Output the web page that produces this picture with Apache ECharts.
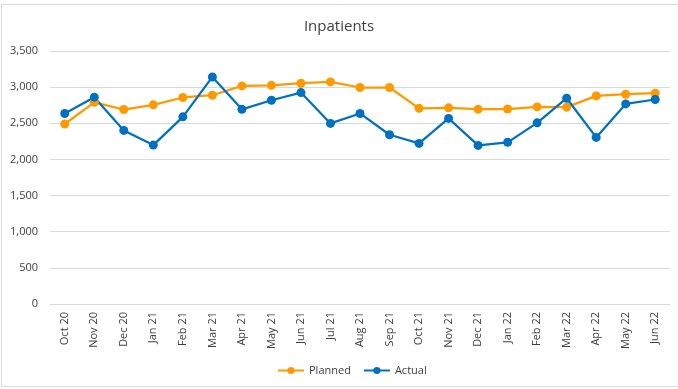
<!DOCTYPE html>
<html>
<head>
<meta charset="utf-8">
<style>
  html, body { margin: 0; padding: 0; background: #ffffff; }
  #chart { width: 678px; height: 389px; }
</style>
<script src="https://cdn.jsdelivr.net/npm/echarts@6/dist/echarts.min.js"></script>
</head>
<body>
<div id="chart"></div>
<script>
// Monthly inpatient activity: plan vs actual
const months = ['Oct 20', 'Nov 20', 'Dec 20', 'Jan 21', 'Feb 21', 'Mar 21', 'Apr 21',
  'May 21', 'Jun 21', 'Jul 21', 'Aug 21', 'Sep 21', 'Oct 21', 'Nov 21', 'Dec 21',
  'Jan 22', 'Feb 22', 'Mar 22', 'Apr 22', 'May 22', 'Jun 22'];
const planned = [2490, 2790, 2690, 2755, 2857, 2888, 3017, 3025, 3054, 3072, 2995, 2995,
  2707, 2714, 2695, 2697, 2727, 2723, 2879, 2902, 2916];
const actual = [2636, 2861, 2401, 2198, 2589, 3141, 2693, 2819, 2925, 2498, 2636, 2341,
  2222, 2567, 2194, 2236, 2506, 2847, 2305, 2768, 2829];
const yTicks = { min: 0, max: 3500, step: 500 };

const FONT = '"Open Sans", "Liberation Sans", sans-serif';
const chart = echarts.init(document.getElementById('chart'), null, { renderer: 'canvas' });

function lineSeries(name, data, color) {
  return {
    name: name,
    type: 'line',
    data: data,
    symbol: 'circle',
    symbolSize: 9,
    lineStyle: { color: color, width: 2.25 },
    itemStyle: { color: color },
    emphasis: { disabled: true },
    animation: false
  };
}

chart.setOption({
  animation: false,
  textStyle: { fontFamily: FONT },
  graphic: [{
    type: 'rect',
    shape: { x: 1.5, y: 4.5, width: 690, height: 382 },
    style: { fill: 'none', stroke: '#d9d9d9', lineWidth: 1 },
    silent: true
  }],
  title: {
    text: 'Inpatients',
    left: 'center',
    top: 14,
    textStyle: { fontFamily: FONT, fontSize: 15, fontWeight: 'normal', color: '#404040' }
  },
  legend: {
    bottom: 8,
    left: 272,
    itemWidth: 26,
    itemHeight: 9,
    itemGap: 12,
    textStyle: { fontFamily: FONT, fontSize: 11, color: '#404040' },
    data: ['Planned', 'Actual']
  },
  grid: { left: 50, right: 8, top: 51, bottom: 85, containLabel: false },
  xAxis: {
    type: 'category',
    data: months,
    boundaryGap: true,
    axisLine: { lineStyle: { color: '#d9d9d9', width: 1 } },
    axisTick: { show: false },
    axisLabel: {
      rotate: 90,
      interval: 0,
      margin: 8,
      fontSize: 11,
      color: '#404040',
      fontFamily: FONT
    }
  },
  yAxis: {
    type: 'value',
    min: yTicks.min,
    max: yTicks.max,
    interval: yTicks.step,
    axisLine: { show: false },
    axisTick: { show: false },
    splitLine: { lineStyle: { color: '#d9d9d9', width: 1 } },
    axisLabel: {
      margin: 12,
      fontSize: 11,
      color: '#404040',
      fontFamily: FONT,
      formatter: v => v.toLocaleString('en-US')
    }
  },
  series: [
    lineSeries('Planned', planned, '#FF9900'),
    lineSeries('Actual', actual, '#0070C0')
  ]
});
</script>
</body>
</html>
